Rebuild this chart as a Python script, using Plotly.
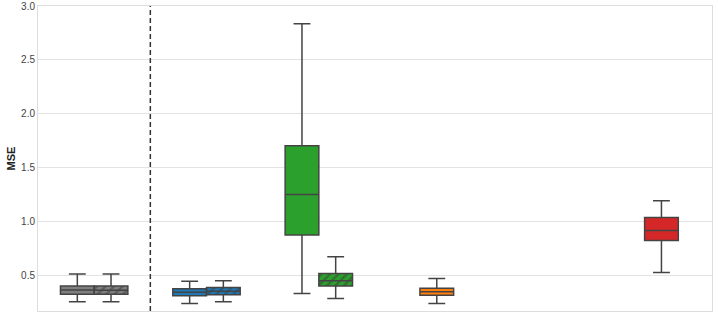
import plotly.graph_objects as go

# Box positions (category units; 6 slots from -0.5 to 5.5)
positions = [-0.15, 0.15, 0.85, 1.15, 1.85, 2.15, 3.05, 5.05]
lower = [0.257, 0.257, 0.242, 0.257, 0.335, 0.288, 0.242, 0.530]
q1 = [0.328, 0.328, 0.313, 0.322, 0.876, 0.403, 0.319, 0.826]
median = [0.366, 0.364, 0.347, 0.356, 1.253, 0.452, 0.350, 0.919]
q3 = [0.403, 0.403, 0.378, 0.390, 1.704, 0.520, 0.384, 1.040]
upper = [0.514, 0.514, 0.449, 0.452, 2.836, 0.674, 0.474, 1.194]
colors = ["#7f7f7f", "#7f7f7f", "#1f77b4", "#1f77b4", "#2ca02c", "#2ca02c", "#ff7f0e", "#d62728"]
hatched = [False, True, False, True, False, True, False, False]
divider_x = 0.5
y_ticks = [0.5, 1.0, 1.5, 2.0, 2.5, 3.0]

box_w = 0.30
edge = "#444444"

fig = go.Figure()
for i, p in enumerate(positions):
    if hatched[i]:
        fig.add_trace(go.Bar(
            x=[p], y=[q3[i] - q1[i]], base=[q1[i]], width=box_w,
            marker=dict(color=colors[i], line=dict(width=0),
                        pattern=dict(shape="/", fgcolor="#3a3a3a", bgcolor=colors[i],
                                     size=6, solidity=0.4)),
            hoverinfo="skip", showlegend=False))
    fig.add_trace(go.Box(
        x=[p], q1=[q1[i]], median=[median[i]], q3=[q3[i]],
        lowerfence=[lower[i]], upperfence=[upper[i]],
        width=box_w, whiskerwidth=0.5,
        fillcolor="rgba(0,0,0,0)" if hatched[i] else colors[i],
        line=dict(color=edge, width=1.5),
        hoverinfo="skip", showlegend=False))

fig.add_vline(x=divider_x, line=dict(color="#333333", width=1.5, dash="5px,3px"))

fig.update_layout(
    width=718, height=312,
    margin=dict(l=38, r=6, t=6, b=1),
    paper_bgcolor="white", plot_bgcolor="white",
    font=dict(family="Liberation Sans, Arial, sans-serif", color="#444444", size=10),
    xaxis=dict(range=[-0.5, 5.5], showticklabels=False, showgrid=False, zeroline=False,
               showline=True, linecolor="#dddddd", linewidth=1, mirror=True, ticks="",
               automargin=False),
    yaxis=dict(range=[0.172, 3.0], tickvals=y_ticks, ticktext=[f"{v:.1f}" for v in y_ticks],
               showgrid=True, gridcolor="#e3e3e3", gridwidth=1, zeroline=False,
               showline=True, linecolor="#dddddd", linewidth=1, mirror=True, ticks="",
               automargin=False,
               title=dict(text="<b>MSE</b>", font=dict(size=11, color="#222222"), standoff=3)),
    bargap=0,
)

fig.write_html("out.html", config={"displayModeBar": False},
               post_script="document.body.style.margin='0';")
